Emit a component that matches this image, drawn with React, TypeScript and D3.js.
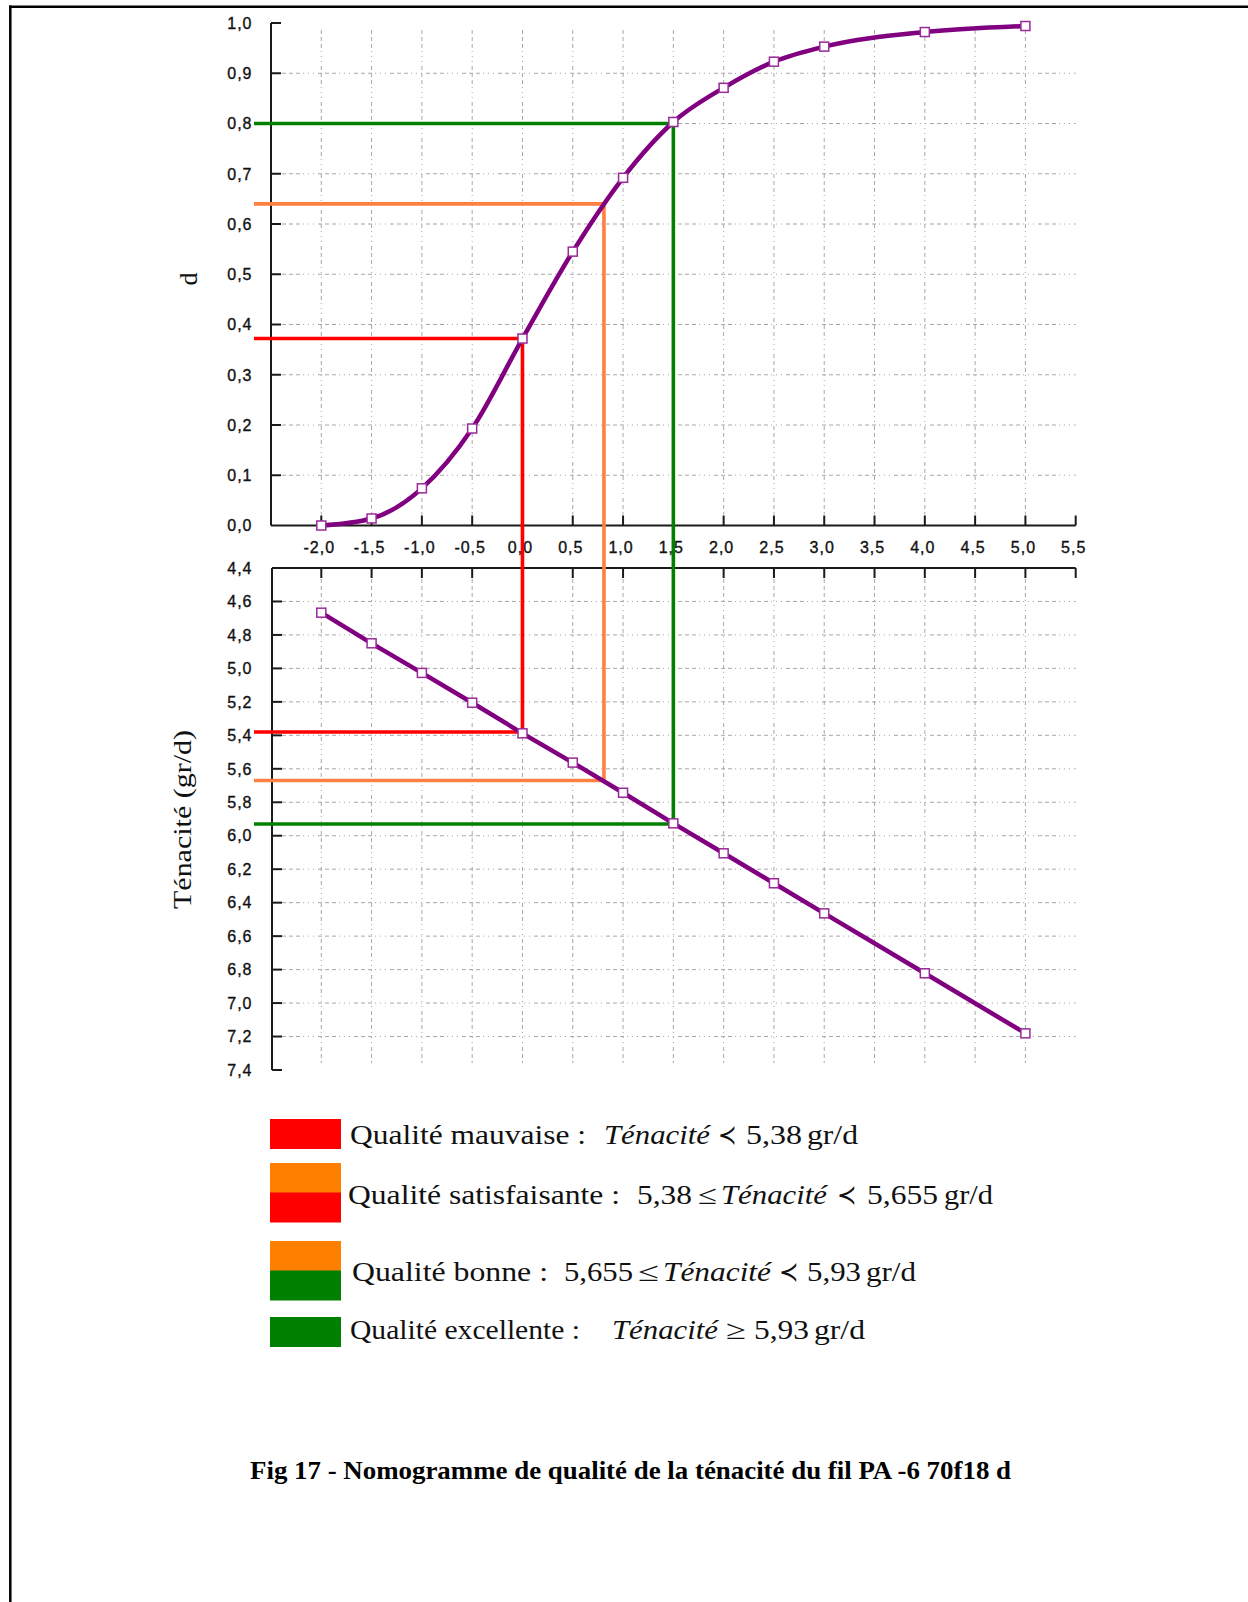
import React from "react";
import * as d3 from "d3";

// ---------- data ----------
const xTicks = [-2.0, -1.5, -1.0, -0.5, 0.0, 0.5, 1.0, 1.5, 2.0, 2.5, 3.0, 3.5, 4.0, 4.5, 5.0, 5.5];
const xGrid = [-2.0, -1.5, -1.0, -0.5, 0.0, 0.5, 1.0, 1.5, 2.0, 2.5, 3.0, 3.5, 4.0, 4.5, 5.0];
const dTicks = [0.0, 0.1, 0.2, 0.3, 0.4, 0.5, 0.6, 0.7, 0.8, 0.9, 1.0];
const tTicks = [4.4, 4.6, 4.8, 5.0, 5.2, 5.4, 5.6, 5.8, 6.0, 6.2, 6.4, 6.6, 6.8, 7.0, 7.2, 7.4];

const xValues = [-2, -1.5, -1, -0.5, 0, 0.5, 1, 1.5, 2, 2.5, 3, 4, 5];
const dValues = [0.0, 0.014, 0.074, 0.193, 0.372, 0.545, 0.692, 0.803, 0.871, 0.923, 0.953, 0.982, 0.994];
const tenValues = [4.667, 4.85, 5.027, 5.205, 5.388, 5.563, 5.743, 5.926, 6.105, 6.284, 6.464, 6.822, 7.181];

const thresholdX = [0.0, 0.81, 1.5];
const thresholdD = [0.372, 0.64, 0.8];
const thresholdT = [5.38, 5.67, 5.93];
const thresholdColors = ["#ff0000", "#ff8040", "#008000"];

const legendColors = [["#ff0000"], ["#ff8000", "#ff0000"], ["#ff8000", "#008000"], ["#008000"]];
// segments: [text, italic, x0, x1]
const legendRows: [string, boolean, number, number][][] = [
  [["Qualité mauvaise :", false, 350, 586], ["Ténacité", true, 604, 710], ["≺", false, 718, 737], ["5,38", false, 746, 802], ["gr/d", false, 807, 858]],
  [["Qualité satisfaisante :", false, 348, 620], ["5,38", false, 637, 692], ["≤", false, 698, 717], ["Ténacité", true, 721, 827], ["≺", false, 837, 857], ["5,655", false, 867, 938], ["gr/d", false, 944, 993]],
  [["Qualité bonne :", false, 352, 548], ["5,655", false, 564, 633], ["≤", false, 638, 659], ["Ténacité", true, 663, 771], ["≺", false, 779, 799], ["5,93", false, 807, 861], ["gr/d", false, 866, 916]],
  [["Qualité excellente :", false, 350, 580], ["Ténacité", true, 612, 718], ["≥", false, 726, 746], ["5,93", false, 754, 809], ["gr/d", false, 814, 865]],
];
const legendBoxTops = [1119, 1163, 1241, 1317];
const legendBaselines = [1144, 1204, 1281, 1339];

const caption = "Fig 17 - Nomogramme de qualité de la ténacité du fil PA -6 70f18 d";
const yLabelTop = "d";
const yLabelBottom = "Ténacité (gr/d)";

// ---------- layout ----------
const W = 1248;
const H = 1602;
const x = d3.scaleLinear().domain([-2.5, 5.5]).range([271, 1075.7]);
const yD = d3.scaleLinear().domain([0, 1]).range([525.5, 23]);
const yT = d3.scaleLinear().domain([4.4, 7.4]).range([568, 1070]);

const fmt = (v: number) => v.toFixed(1).replace(".", ",");
const sans = "'Liberation Sans', Arial, sans-serif";
const serif = "'Liberation Serif', 'Times New Roman', serif";
const gridColor = "#a8a8a8";
const gridDash = "4,3,4,3,4,3,1,4,1,4,1,4";
const axisColor = "#1a1a1a";
const purple = "#800080";

export default function App() {
  const topLine = d3
    .line<number>()
    .x((_, i) => x(xValues[i]))
    .y((d) => yD(d))
    .curve(d3.curveMonotoneX)(dValues) as string;
  const bottomLine = d3
    .line<number>()
    .x((_, i) => x(xValues[i]))
    .y((d) => yT(d))(tenValues) as string;

  const x0 = x(-2.5);
  const x1 = x(5.5);
  const leftStart = 254;
  const ms = 9;

  return (
    <svg width={W} height={H} style={{ position: "absolute", left: 0, top: 0, background: "#fff" }}>
      <rect x={0} y={0} width={W} height={H} fill="#ffffff" />
      {/* page border */}
      <line x1={9} y1={6.7} x2={W} y2={6.7} stroke="#000" strokeWidth={2.5} />
      <line x1={10.3} y1={5.5} x2={10.3} y2={H} stroke="#000" strokeWidth={2.5} />

      {/* grids */}
      <g stroke={gridColor} strokeWidth={1} strokeDasharray={gridDash} fill="none">
        {dTicks.slice(1, -1).map((v) => (
          <line key={"gd" + v} x1={x0 + 11} x2={x1} y1={yD(v)} y2={yD(v)} />
        ))}
        {xGrid.map((v) => (
          <line key={"gx" + v} x1={x(v)} x2={x(v)} y1={30} y2={yD(0) - 11} />
        ))}
        {tTicks.slice(1, -1).map((v) => (
          <line key={"gt" + v} x1={x0 + 11} x2={x1} y1={yT(v)} y2={yT(v)} />
        ))}
        {xGrid.map((v) => (
          <line key={"gx2" + v} x1={x(v)} x2={x(v)} y1={yT(4.4) + 11} y2={1063} />
        ))}
      </g>

      {/* axes */}
      <g stroke={axisColor} strokeWidth={2} fill="none">
        <line x1={x0} x2={x0} y1={yD(1)} y2={yD(0)} />
        <line x1={x0} x2={x1} y1={yD(0)} y2={yD(0)} />
        {dTicks.slice(1).map((v) => (
          <line key={"td" + v} x1={x0} x2={x0 + 10} y1={yD(v)} y2={yD(v)} />
        ))}
        {xTicks.map((v) => (
          <line key={"tx" + v} x1={x(v)} x2={x(v)} y1={yD(0)} y2={yD(0) - 10} />
        ))}
        <line x1={x0 + 1} x2={x0 + 1} y1={yT(4.4)} y2={yT(7.4)} />
        <line x1={x0 + 1} x2={x1} y1={yT(4.4)} y2={yT(4.4)} />
        {tTicks.slice(1).map((v) => (
          <line key={"tt" + v} x1={x0 + 1} x2={x0 + 11} y1={yT(v)} y2={yT(v)} />
        ))}
        {xTicks.map((v) => (
          <line key={"tx2" + v} x1={x(v)} x2={x(v)} y1={yT(4.4)} y2={yT(4.4) + 10} />
        ))}
      </g>

      {/* tick labels */}
      <g fontFamily={sans} fontSize={16} fill="#111" stroke="#111" strokeWidth={0.35} letterSpacing={1}>
        {dTicks.map((v) => (
          <text key={"ld" + v} x={252.5} y={yD(v)} dy="0.36em" textAnchor="end">
            {fmt(v)}
          </text>
        ))}
        {xTicks.map((v) => (
          <text key={"lx" + v} x={x(v) - 2} y={552.5} textAnchor="middle">
            {fmt(v)}
          </text>
        ))}
        {tTicks.map((v) => (
          <text key={"lt" + v} x={252.5} y={yT(v)} dy="0.36em" textAnchor="end">
            {fmt(v)}
          </text>
        ))}
      </g>

      {/* axis titles */}
      <text
        transform="translate(197,279) rotate(-90)"
        textAnchor="middle"
        fontFamily={serif}
        fontSize={26}
        fill="#111"
      >
        {yLabelTop}
      </text>
      <text
        transform="translate(191,820) rotate(-90)"
        x={-89}
        fontFamily={serif}
        fontSize={25}
        fill="#111"
        textLength={179}
        lengthAdjust="spacingAndGlyphs"
      >
        {yLabelBottom}
      </text>

      {/* threshold lines */}
      {thresholdX.map((tx, i) => (
        <g key={"th" + i} stroke={thresholdColors[i]} strokeWidth={3.6} fill="none">
          <polyline
            points={`${leftStart},${yD(thresholdD[i])} ${x(tx)},${yD(thresholdD[i])} ${x(tx)},${yT(thresholdT[i])} ${leftStart},${yT(thresholdT[i])}`}
          />
        </g>
      ))}

      {/* curves */}
      <path d={topLine} fill="none" stroke={purple} strokeWidth={4.5} />
      <path d={bottomLine} fill="none" stroke={purple} strokeWidth={4.5} />
      {xValues.map((v, i) => (
        <rect
          key={"m1" + i}
          x={x(v) - ms / 2}
          y={yD(dValues[i]) - ms / 2}
          width={ms}
          height={ms}
          fill="#fff"
          stroke="#9a2a9a"
          strokeWidth={1.5}
        />
      ))}
      {xValues.map((v, i) => (
        <rect
          key={"m2" + i}
          x={x(v) - ms / 2}
          y={yT(tenValues[i]) - ms / 2}
          width={ms}
          height={ms}
          fill="#fff"
          stroke="#9a2a9a"
          strokeWidth={1.5}
        />
      ))}

      {/* legend */}
      {legendColors.map((cols, i) =>
        cols.map((c, j) => (
          <rect key={"lb" + i + j} x={270} y={legendBoxTops[i] + j * 29.5} width={71} height={30} fill={c} />
        ))
      )}
      {legendRows.map((row, i) =>
        row.map(([t, it, a, b], j) => (
          <text
            key={"lr" + i + "_" + j}
            x={a}
            y={legendBaselines[i]}
            fontFamily={serif}
            fontSize={27}
            fontStyle={it ? "italic" : "normal"}
            fill="#111"
            textLength={b - a}
            lengthAdjust="spacingAndGlyphs"
          >
            {t}
          </text>
        ))
      )}

      {/* caption */}
      <text
        x={250}
        y={1479}
        fontFamily={serif}
        fontWeight="bold"
        fontSize={26}
        fill="#000"
        textLength={761}
        lengthAdjust="spacingAndGlyphs"
      >
        {caption}
      </text>
    </svg>
  );
}
